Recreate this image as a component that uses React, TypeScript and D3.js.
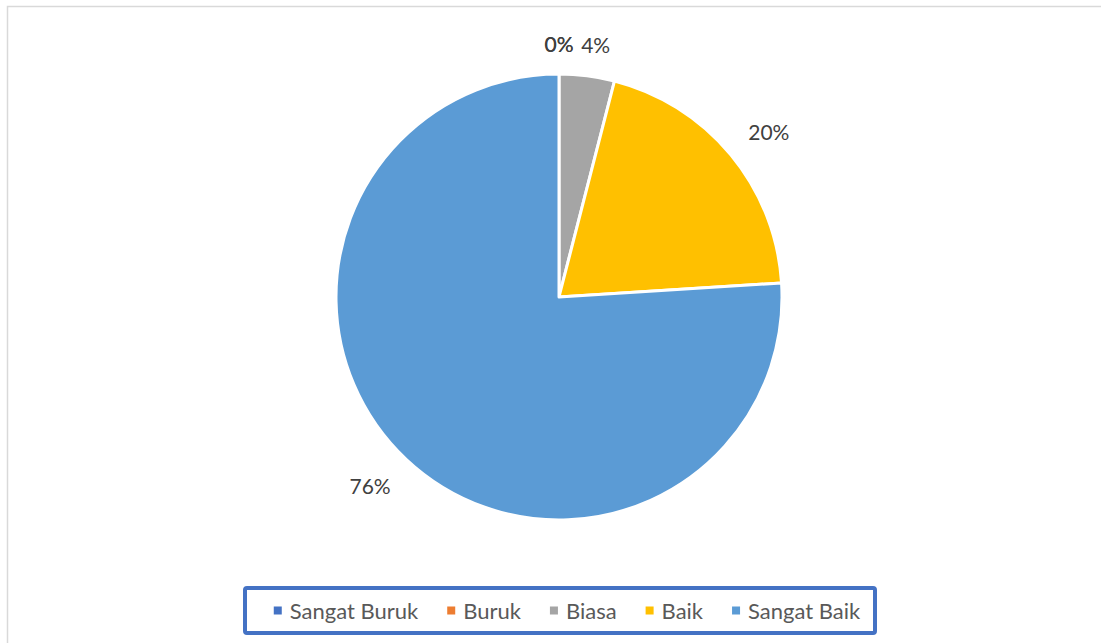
import React, { useEffect, useRef } from "react";
import * as d3 from "d3";

const categories = ["Sangat Buruk", "Buruk", "Biasa", "Baik", "Sangat Baik"];
const values = [0, 0, 4, 20, 76];
const colors = ["#4472C4", "#ED7D31", "#A5A5A5", "#FFC000", "#5B9BD5"];

const W = 1101;
const H = 643;

export default function App() {
  const ref = useRef<SVGSVGElement>(null);

  useEffect(() => {
    const svg = d3.select(ref.current);
    svg.selectAll("*").remove();

    svg
      .append("rect")
      .attr("x", 7.5)
      .attr("y", 6.5)
      .attr("width", 1110)
      .attr("height", 660)
      .attr("fill", "#fff")
      .attr("stroke", "#D9D9D9")
      .attr("stroke-width", 1.5);

    const cx = 559;
    const cy = 297;
    const r = 223;
    const font = "Lato, 'Open Sans', sans-serif";

    const total = d3.sum(values);
    const pie = d3
      .pie<number>()
      .sort(null)
      .value((d) => d)(values);
    const arc = d3.arc<d3.PieArcDatum<number>>().innerRadius(0).outerRadius(r);

    const g = svg.append("g").attr("transform", `translate(${cx},${cy})`);
    g.selectAll("path")
      .data(pie)
      .join("path")
      .attr("d", arc as any)
      .attr("fill", (_, i) => colors[i])
      .attr("stroke", "#fff")
      .attr("stroke-width", 3)
      .attr("stroke-linejoin", "round");

    // labels (outside end)
    const gap = 20;
    pie.forEach((p, i) => {
      const text = `${Math.round((values[i] / total) * 100)}%`;
      const t = g
        .append("text")
        .attr("font-family", font)
        .attr("font-size", 21)
        .attr("fill", "#404040")
        .attr("text-anchor", "middle")
        .attr("dominant-baseline", "central")
        .text(text);
      const w = (t.node() as SVGTextElement).getComputedTextLength();
      const h = 22;
      const a = (p.startAngle + p.endAngle) / 2;
      const s = Math.sin(a);
      const c = Math.cos(a);
      const fx = Math.sign(s) * Math.min(1, Math.abs(s) * 3);
      const fy = Math.sign(c) * Math.min(1, Math.abs(c) * 3);
      const px = s * (r + gap) + fx * (w / 2 + 2);
      const py = -c * (r + gap) - fy * (h / 2);
      t.attr("x", px).attr("y", py);
    });

    // legend
    const lx = 245;
    const ly = 588;
    const lw = 630;
    const lh = 45;
    svg
      .append("rect")
      .attr("x", lx)
      .attr("y", ly)
      .attr("width", lw)
      .attr("height", lh)
      .attr("rx", 2)
      .attr("fill", "#fff")
      .attr("stroke", "#4472C4")
      .attr("stroke-width", 4);

    const lg = svg.append("g");
    const items = categories.map((name, i) => {
      const it = lg.append("g");
      it.append("rect")
        .attr("width", 8)
        .attr("height", 8)
        .attr("y", -4)
        .attr("fill", colors[i]);
      const t = it
        .append("text")
        .attr("x", 16)
        .attr("font-family", font)
        .attr("font-size", 22)
        .attr("fill", "#595959")
        .attr("dominant-baseline", "central")
        .text(name);
      const w = 16 + (t.node() as SVGTextElement).getComputedTextLength();
      return { it, w };
    });
    const itemGap = 29;
    const totalW = d3.sum(items, (d) => d.w) + itemGap * (items.length - 1);
    let x = lx + lw / 2 - totalW / 2 + 7;
    items.forEach(({ it, w }) => {
      it.attr("transform", `translate(${x},${ly + lh / 2})`);
      x += w + itemGap;
    });
  }, []);

  return (
    <svg
      ref={ref}
      width={W}
      height={H}
      style={{ position: "absolute", left: 0, top: 0, background: "#fff" }}
    />
  );
}
